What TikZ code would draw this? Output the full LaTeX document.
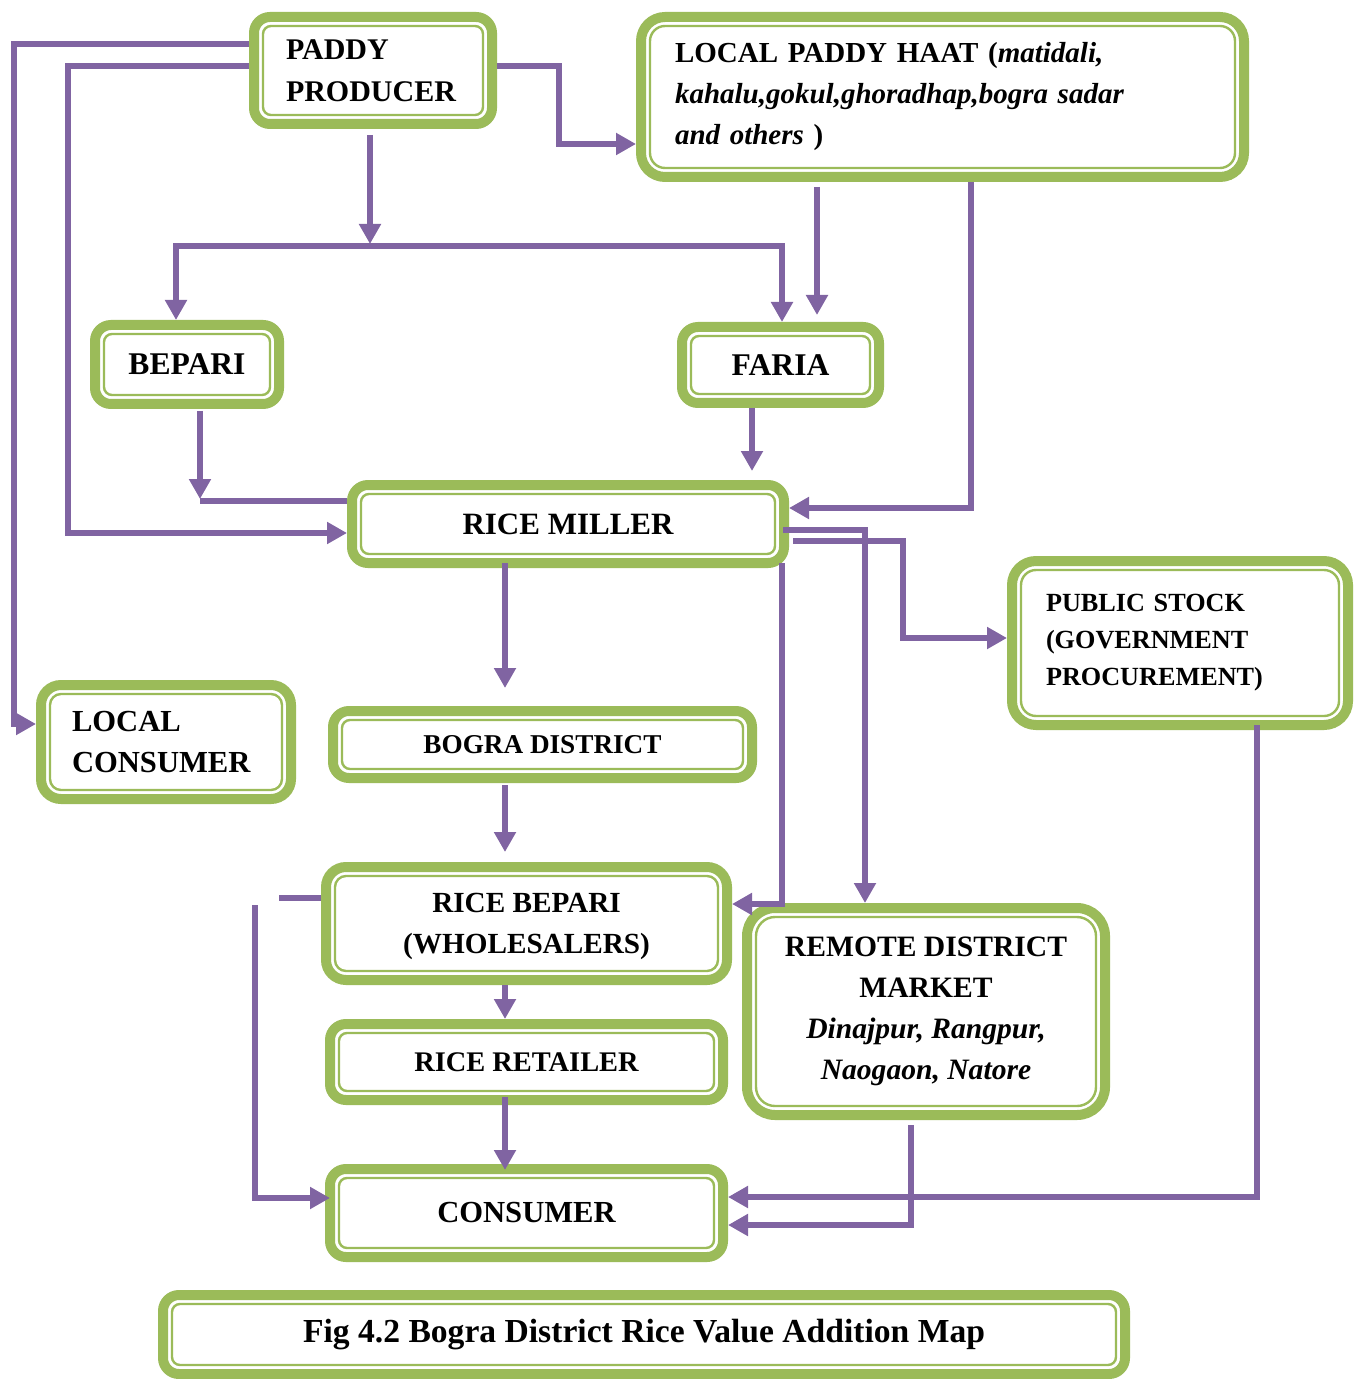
\documentclass[tikz,border=0pt]{standalone}
\usepackage{fontspec}
\setmainfont{Liberation Serif}
\usetikzlibrary{arrows.meta,calc}
\definecolor{boxgreen}{HTML}{9BBB59}
\definecolor{flowpurple}{HTML}{8064A2}
\tikzset{
  stage/.style={draw=boxgreen, line width=5pt, rounded corners=8pt, fill=white, inner sep=0pt, align=center},
  rimline/.style={draw=boxgreen, line width=1.2pt},
  flow/.style={draw=flowpurple, line width=3pt, -{Triangle[length=10pt,width=10.5pt]}},
  link/.style={draw=flowpurple, line width=3pt},
}
\begin{document}
\begin{tikzpicture}[x=0.5pt,y=-0.5pt]
\useasboundingbox (0,0) rectangle (1354,1379);
% Drawing the stages
\node[stage, minimum width=119pt, minimum height=53.5pt, text width=87pt, align=left,
  font=\fontsize{15}{21}\selectfont\bfseries] (producer) at (373,70.5) {PADDY\\PRODUCER};
\node[stage, rounded corners=12pt, minimum width=301.5pt, minimum height=80pt, text width=267.5pt, align=left,
  font=\fontsize{14.5}{20.5}\selectfont\bfseries] (haat) at (942.5,97)
  {LOCAL PADDY HAAT (\textit{matidali,}\\\textit{kahalu,gokul,ghoradhap,bogra sadar}\\\textit{and others} )};
\node[stage, minimum width=92pt, minimum height=39.5pt, font=\fontsize{15.8}{20}\selectfont\bfseries] (bepari) at (187,364.5) {BEPARI};
\node[stage, minimum width=98.5pt, minimum height=38pt, font=\fontsize{15.8}{20}\selectfont\bfseries] (faria) at (780.5,365) {FARIA};
\node[stage, minimum width=216pt, minimum height=39pt, font=\fontsize{15.5}{20}\selectfont\bfseries] (miller) at (568,524) {RICE MILLER};
\node[stage, rounded corners=12pt, minimum width=168pt, minimum height=82pt, text width=134pt, align=left,
  font=\fontsize{13.1}{18.5}\selectfont\bfseries] (public) at (1180,643) {PUBLIC STOCK\\(GOVERNMENT\\PROCUREMENT)};
\node[stage, rounded corners=10pt, minimum width=125pt, minimum height=57pt, text width=94pt, align=left,
  font=\fontsize{15.3}{20.5}\selectfont\bfseries] (localcons) at (166,742) {LOCAL\\CONSUMER};
\node[stage, minimum width=209.5pt, minimum height=33.5pt, font=\fontsize{13.6}{18}\selectfont\bfseries] (bogra) at (542.5,744.5) {BOGRA DISTRICT};
\node[stage, rounded corners=10pt, minimum width=200.5pt, minimum height=56.5pt, text depth=0pt,
  font=\fontsize{14.6}{20.5}\selectfont\bfseries] (ricebepari) at (526.5,923.5) {RICE BEPARI\\(WHOLESALERS)};
\node[stage, minimum width=196.5pt, minimum height=38pt, font=\fontsize{14.2}{20}\selectfont\bfseries] (retailer) at (526.5,1062) {RICE RETAILER};
\node[stage, minimum width=196.5pt, minimum height=44pt, font=\fontsize{15.3}{20}\selectfont\bfseries] (consumer) at (526.5,1213) {CONSUMER};
\node[stage, rounded corners=14pt, minimum width=179pt, minimum height=103.5pt, font=\fontsize{14.8}{20.5}\selectfont\bfseries] (remote) at (926,1011.5)
  {REMOTE DISTRICT\\MARKET\\\textit{Dinajpur, Rangpur,}\\\textit{Naogaon, Natore}};
\node[stage, minimum width=481pt, minimum height=39.5pt, font=\fontsize{16.8}{20}\selectfont\bfseries] (caption) at (644,1334.5)
  {Fig 4.2 Bogra District Rice Value Addition Map};
% inner rims of the stages (anchors sit on the outer edge of the thick line)
\foreach \nd/\rr in {producer/4pt, haat/7.5pt, bepari/4pt, faria/4pt, miller/4pt, public/7.5pt, localcons/5.5pt,
    bogra/4pt, ricebepari/5.5pt, retailer/4pt, consumer/4pt, remote/9.5pt, caption/4pt}
  \draw[rimline, rounded corners=\rr] ($(\nd.south west)+(7pt,7pt)$) rectangle ($(\nd.north east)-(7pt,7pt)$);
% Drawing the flows
\draw[flow] (producer.west |- 0,44) -| (14,724) -- (localcons.west |- 0,724);
\draw[flow] (producer.west |- 0,66) -| (68,533) -- (miller.west |- 0,533);
\draw[flow] (producer.east |- 0,66) -| (559,144) -- (haat.west |- 0,144);
\draw[flow, shorten <=3pt] (producer.south -| 370,0) -- (370,244);
\draw[flow] (370,246) -| (bepari.north -| 176,0);
\draw[flow] (370,246) -| (faria.north -| 782,0);
\draw[flow, shorten <=2.5pt, shorten >=3.5pt] (haat.south -| 817,0) -- (faria.north -| 817,0);
\draw[flow] (haat.south -| 971,0) |- (miller.east |- 0,508);
\draw[link] (200,501) -- (miller.west |- 0,501);
\draw[flow, shorten <=1pt] (bepari.south -| 200,0) -- (200,499);
\draw[flow, shorten >=4.5pt] (faria.south -| 752,0) -- (miller.north -| 752,0);
\draw[flow, shorten <=-3pt] (miller.east |- 0,530) -| (remote.north -| 865,0);
\draw[flow, shorten <=2pt] (miller.east |- 0,541) -| (903,638) -- (public.west |- 0,638);
\draw[flow, shorten <=-2.5pt] (miller.south -| 782,0) |- (ricebepari.east |- 0,904);
\draw[flow, shorten <=-2.5pt, shorten >=9pt] (miller.south -| 505,0) -- (bogra.north -| 505,0);
\draw[flow, shorten <=1pt, shorten >=5pt] (bogra.south -| 505,0) -- (ricebepari.north -| 505,0);
\draw[link] (279,898) -- (ricebepari.west |- 0,898);
\draw[flow, shorten >=-2.5pt] (255,905) |- (consumer.west |- 0,1198);
\draw[flow] (ricebepari.south -| 505,0) -- (retailer.north -| 505,0);
\draw[flow, shorten <=-4pt, shorten >=-3pt] (retailer.south -| 505,0) -- (consumer.north -| 505,0);
\draw[flow, shorten <=-2.5pt] (public.south -| 1257,0) |- (consumer.east |- 0,1197);
\draw[flow, shorten <=2.5pt] (remote.south -| 911,0) |- (consumer.east |- 0,1225);
\end{tikzpicture}
\end{document}
